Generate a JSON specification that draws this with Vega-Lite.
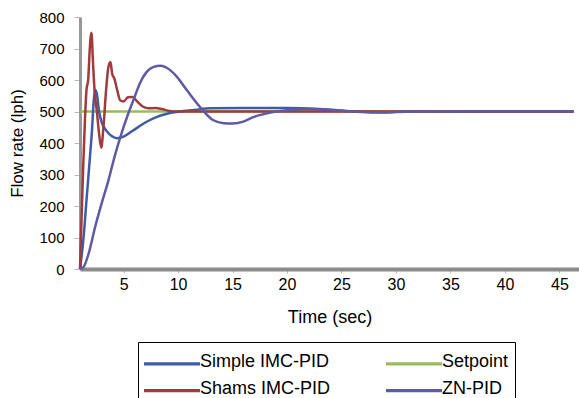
{
  "$schema": "https://vega.github.io/schema/vega-lite/v6.json",
  "autosize": {"type": "none"},
  "width": 499,
  "height": 252,
  "padding": {"left": 80, "top": 17, "right": 0, "bottom": 129},
  "background": "white",
  "config": {
    "font": "Liberation Sans",
    "view": {"stroke": null},
    "axis": {"labelColor": "black", "titleColor": "black", "titleFontWeight": "normal", "grid": false, "labelFont": "Liberation Sans", "titleFont": "Liberation Sans"},
    "legend": {"labelFont": "Liberation Sans"}
  },
  "data": {
    "values": [
      {"t": 1, "v": 500, "s": "Setpoint"},
      {"t": 46.3, "v": 500, "s": "Setpoint"},

      {"t": 1, "v": 0, "s": "Simple IMC-PID"},
      {"t": 1.3, "v": 90, "s": "Simple IMC-PID"},
      {"t": 1.6, "v": 220, "s": "Simple IMC-PID"},
      {"t": 1.9, "v": 350, "s": "Simple IMC-PID"},
      {"t": 2.1, "v": 440, "s": "Simple IMC-PID"},
      {"t": 2.25, "v": 530, "s": "Simple IMC-PID"},
      {"t": 2.4, "v": 568, "s": "Simple IMC-PID"},
      {"t": 2.55, "v": 555, "s": "Simple IMC-PID"},
      {"t": 2.75, "v": 500, "s": "Simple IMC-PID"},
      {"t": 3.0, "v": 465, "s": "Simple IMC-PID"},
      {"t": 3.4, "v": 440, "s": "Simple IMC-PID"},
      {"t": 3.9, "v": 422, "s": "Simple IMC-PID"},
      {"t": 4.4, "v": 415, "s": "Simple IMC-PID"},
      {"t": 5.0, "v": 420, "s": "Simple IMC-PID"},
      {"t": 5.8, "v": 438, "s": "Simple IMC-PID"},
      {"t": 7.0, "v": 465, "s": "Simple IMC-PID"},
      {"t": 8.0, "v": 482, "s": "Simple IMC-PID"},
      {"t": 9.0, "v": 493, "s": "Simple IMC-PID"},
      {"t": 10.0, "v": 499, "s": "Simple IMC-PID"},
      {"t": 11.5, "v": 505, "s": "Simple IMC-PID"},
      {"t": 13, "v": 510, "s": "Simple IMC-PID"},
      {"t": 16, "v": 511, "s": "Simple IMC-PID"},
      {"t": 20, "v": 511, "s": "Simple IMC-PID"},
      {"t": 23, "v": 508, "s": "Simple IMC-PID"},
      {"t": 25, "v": 503, "s": "Simple IMC-PID"},
      {"t": 27, "v": 499, "s": "Simple IMC-PID"},
      {"t": 29, "v": 498, "s": "Simple IMC-PID"},
      {"t": 31, "v": 500, "s": "Simple IMC-PID"},
      {"t": 46.3, "v": 500, "s": "Simple IMC-PID"},

      {"t": 1, "v": 0, "s": "Shams IMC-PID"},
      {"t": 1.15, "v": 170, "s": "Shams IMC-PID"},
      {"t": 1.3, "v": 330, "s": "Shams IMC-PID"},
      {"t": 1.45, "v": 470, "s": "Shams IMC-PID"},
      {"t": 1.6, "v": 570, "s": "Shams IMC-PID"},
      {"t": 1.75, "v": 600, "s": "Shams IMC-PID"},
      {"t": 1.9, "v": 700, "s": "Shams IMC-PID"},
      {"t": 2.05, "v": 750, "s": "Shams IMC-PID"},
      {"t": 2.2, "v": 650, "s": "Shams IMC-PID"},
      {"t": 2.35, "v": 560, "s": "Shams IMC-PID"},
      {"t": 2.55, "v": 500, "s": "Shams IMC-PID"},
      {"t": 2.75, "v": 430, "s": "Shams IMC-PID"},
      {"t": 2.95, "v": 385, "s": "Shams IMC-PID"},
      {"t": 3.15, "v": 450, "s": "Shams IMC-PID"},
      {"t": 3.4, "v": 570, "s": "Shams IMC-PID"},
      {"t": 3.6, "v": 640, "s": "Shams IMC-PID"},
      {"t": 3.8, "v": 657, "s": "Shams IMC-PID"},
      {"t": 3.95, "v": 620, "s": "Shams IMC-PID"},
      {"t": 4.15, "v": 605, "s": "Shams IMC-PID"},
      {"t": 4.4, "v": 570, "s": "Shams IMC-PID"},
      {"t": 4.7, "v": 535, "s": "Shams IMC-PID"},
      {"t": 5.0, "v": 532, "s": "Shams IMC-PID"},
      {"t": 5.4, "v": 545, "s": "Shams IMC-PID"},
      {"t": 5.8, "v": 546, "s": "Shams IMC-PID"},
      {"t": 6.3, "v": 530, "s": "Shams IMC-PID"},
      {"t": 6.8, "v": 515, "s": "Shams IMC-PID"},
      {"t": 7.3, "v": 510, "s": "Shams IMC-PID"},
      {"t": 7.9, "v": 511, "s": "Shams IMC-PID"},
      {"t": 8.5, "v": 508, "s": "Shams IMC-PID"},
      {"t": 9.2, "v": 502, "s": "Shams IMC-PID"},
      {"t": 10, "v": 500, "s": "Shams IMC-PID"},
      {"t": 46.3, "v": 500, "s": "Shams IMC-PID"},

      {"t": 1, "v": 0, "s": "ZN-PID"},
      {"t": 1.3, "v": 5, "s": "ZN-PID"},
      {"t": 1.8, "v": 50, "s": "ZN-PID"},
      {"t": 2.4, "v": 135, "s": "ZN-PID"},
      {"t": 3.0, "v": 210, "s": "ZN-PID"},
      {"t": 3.6, "v": 280, "s": "ZN-PID"},
      {"t": 4.2, "v": 360, "s": "ZN-PID"},
      {"t": 4.9, "v": 440, "s": "ZN-PID"},
      {"t": 5.5, "v": 500, "s": "ZN-PID"},
      {"t": 6.0, "v": 545, "s": "ZN-PID"},
      {"t": 6.5, "v": 590, "s": "ZN-PID"},
      {"t": 7.1, "v": 625, "s": "ZN-PID"},
      {"t": 7.7, "v": 641, "s": "ZN-PID"},
      {"t": 8.4, "v": 645, "s": "ZN-PID"},
      {"t": 9.0, "v": 638, "s": "ZN-PID"},
      {"t": 9.9, "v": 610, "s": "ZN-PID"},
      {"t": 10.8, "v": 568, "s": "ZN-PID"},
      {"t": 12, "v": 515, "s": "ZN-PID"},
      {"t": 13.2, "v": 473, "s": "ZN-PID"},
      {"t": 14.2, "v": 463, "s": "ZN-PID"},
      {"t": 15, "v": 462, "s": "ZN-PID"},
      {"t": 16, "v": 468, "s": "ZN-PID"},
      {"t": 16.9, "v": 482, "s": "ZN-PID"},
      {"t": 18.7, "v": 498, "s": "ZN-PID"},
      {"t": 20.3, "v": 505, "s": "ZN-PID"},
      {"t": 22, "v": 508, "s": "ZN-PID"},
      {"t": 24, "v": 505, "s": "ZN-PID"},
      {"t": 26, "v": 500, "s": "ZN-PID"},
      {"t": 28, "v": 497, "s": "ZN-PID"},
      {"t": 31, "v": 499, "s": "ZN-PID"},
      {"t": 46.3, "v": 500, "s": "ZN-PID"}
    ]
  },
  "encoding": {
    "x": {
      "field": "t", "type": "quantitative",
      "scale": {"domain": [1, 46.8], "nice": false, "zero": false},
      "axis": {
        "values": [5, 10, 15, 20, 25, 30, 35, 40, 45],
        "title": "Time (sec)",
        "titleFontSize": 18,
        "titlePadding": 16,
        "labelFontSize": 16,
        "labelPadding": 3,
        "tickSize": 4,
        "tickColor": "#bbbbbb",
        "domainColor": "#8c8c8c",
        "domainWidth": 4
      }
    },
    "y": {
      "field": "v", "type": "quantitative",
      "scale": {"domain": [0, 800], "nice": false},
      "axis": {
        "values": [0, 100, 200, 300, 400, 500, 600, 700, 800],
        "title": "Flow rate (lph)",
        "titleFontSize": 17,
        "titlePadding": 12,
        "labelFontSize": 15,
        "labelPadding": 10,
        "tickSize": 6,
        "tickColor": "#bbbbbb",
        "domainColor": "#999999",
        "domainWidth": 3
      }
    },
    "color": {
      "field": "s", "type": "nominal",
      "scale": {
        "domain": ["Simple IMC-PID", "Setpoint", "Shams IMC-PID", "ZN-PID"],
        "range": ["#3d5ca6", "#9bbb59", "#a03a3b", "#5f5aa3"]
      },
      "legend": {
        "title": null,
        "orient": "none",
        "legendX": 58,
        "legendY": 325,
        "columns": 2,
        "direction": "horizontal",
        "symbolType": "M-1,0.16H3.42V0.18H-1Z",
        "symbolSize": 576,
        "symbolStrokeWidth": 3,
        "labelFontSize": 18,
        "labelOffset": 29,
        "labelColor": "black",
        "columnPadding": 50,
        "rowPadding": 4,
        "strokeColor": "black",
        "padding": 6
      }
    }
  },
  "layer": [
    {
      "transform": [{"filter": "datum.s === 'Setpoint'"}],
      "mark": {"type": "line", "strokeWidth": 2.5, "interpolate": "monotone"}
    },
    {
      "transform": [{"filter": "datum.s !== 'Setpoint'"}],
      "mark": {"type": "line", "strokeWidth": 2.5, "interpolate": "monotone"}
    }
  ]
}
